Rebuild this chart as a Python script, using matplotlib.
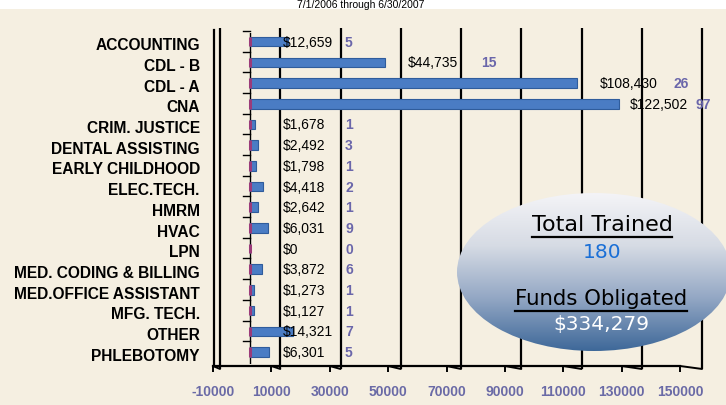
import matplotlib
matplotlib.use("Agg")
import matplotlib.pyplot as plt
import numpy as np
from matplotlib.patches import Ellipse, Rectangle, ConnectionPatch
from matplotlib.colors import LinearSegmentedColormap

categories = ['ACCOUNTING', 'CDL - B', 'CDL - A', 'CNA', 'CRIM. JUSTICE',
              'DENTAL ASSISTING', 'EARLY CHILDHOOD', 'ELEC.TECH.', 'HMRM', 'HVAC',
              'LPN', 'MED. CODING & BILLING', 'MED.OFFICE ASSISTANT', 'MFG. TECH.',
              'OTHER', 'PHLEBOTOMY']
funds = [12659, 44735, 108430, 122502, 1678, 2492, 1798, 4418, 2642, 6031,
         0, 3872, 1273, 1127, 14321, 6301]
trained = [5, 15, 26, 97, 1, 3, 1, 2, 1, 9, 0, 6, 1, 1, 7, 5]
xticks = list(range(-10000, 150001, 20000))
title = '7/1/2006 through 6/30/2007'
total_trained = '180'
funds_obligated = '$334,279'

W, H = 726, 406
bg = '#f5efe1'
fig = plt.figure(figsize=(W / 100, H / 100), dpi=100)
fig.patch.set_facecolor(bg)
fig.add_artist(Rectangle((0, 396 / H), 1, 10 / H, transform=fig.transFigure,
                         facecolor='white', edgecolor='none', zorder=0))
fig.text(0.497, 398.5 / H, title, ha='center', va='baseline', fontsize=7.5,
         family='Liberation Sans', color='black')

# back plane axes: bars, gridlines, labels
ax = fig.add_axes([220 / W, (H - 365) / H, 482 / W, 331 / H])
ax.set_facecolor('none')
y = np.arange(len(categories))
ax.set_xlim(-10000, 150000)
ax.set_ylim(len(categories) - 0.5, -0.5)

ax.vlines(xticks, -0.015, 1.015, transform=ax.get_xaxis_transform(),
          color='black', lw=1.6, clip_on=False, zorder=1)

# zero axis with category ticks
ax.axvline(0, color='black', lw=1.0, zorder=2)
for b in np.arange(-0.5, len(categories) - 0.5, 1.0):
    ax.plot([-2300, 0], [b - 0.1, b - 0.1], color='black', lw=1.0, zorder=2,
            clip_on=False)

ax.barh(y - 0.08, funds, height=0.46, color='#4a7cc4', edgecolor='#2f5c9c',
        lw=0.8, zorder=3)
ax.barh(y - 0.08, trained, height=0.46, color='#9b3b7a', edgecolor='#9b3b7a',
        lw=2.2, zorder=4)

for i, (f, t) in enumerate(zip(funds, trained)):
    fx = min(f + 7500, 126000) if f > 20000 else 11000
    tx = min(f + 32000, 148000) if f > 20000 else 31500
    ax.text(fx, i - 0.08, f'${f:,}', ha='left', va='center', fontsize=10,
            family='Liberation Sans', color='black', zorder=5)
    ax.text(tx, i - 0.08, str(t), ha='left', va='center', fontsize=10,
            family='Liberation Sans', fontweight='bold', color='#6a66aa', zorder=5)

ax.set_xticks([])
ax.set_yticks(y)
ax.set_yticklabels(categories, fontsize=11.2, fontweight='bold',
                   family='Liberation Sans', color='black')
ax.tick_params(axis='y', length=0, pad=14.5)
for s in ax.spines.values():
    s.set_visible(False)

# front plane axis with tick labels
fr = fig.add_axes([213 / W, (H - 367) / H, 467 / W, 0.001])
fr.set_facecolor('none')
fr.set_xlim(-10000, 150000)
fr.set_ylim(0, 1)
fr.set_yticks([])
fr.set_xticks(xticks)
fr.set_xticklabels([str(v) for v in xticks], fontsize=10, fontweight='bold',
                   family='Liberation Sans', color='#6a6aa6')
fr.tick_params(axis='x', length=4, width=1.4, color='black', pad=9)
for s in ['top', 'right', 'left']:
    fr.spines[s].set_visible(False)
fr.spines['bottom'].set_linewidth(1.6)
for xt in xticks:
    fig.add_artist(ConnectionPatch((xt, 0), (xt, -0.015), coordsA=fr.transData,
                                   coordsB=ax.get_xaxis_transform(),
                                   color='black', lw=1.4))

# front-left wall edge
fig.add_artist(plt.Line2D([214 / W, 214 / W], [(H - 31) / H, (H - 367) / H],
                          transform=fig.transFigure, color='black', lw=1.6))

# summary ellipse overlay
ov = fig.add_axes([0, 0, 1, 1], zorder=5)
ov.set_xlim(0, W)
ov.set_ylim(H, 0)
ov.axis('off')
ov.patch.set_alpha(0)
cmap = LinearSegmentedColormap.from_list('ell', ['#f4f4f7', '#d6dbe4', '#93a7c4', '#3e6899'])
grad = np.linspace(0, 1, 256).reshape(-1, 1)
ell = Ellipse((594, 273), 274, 158, transform=ov.transData)
im = ov.imshow(grad, cmap=cmap, extent=(456, 732, 352, 194), aspect='auto', zorder=1)
im.set_clip_path(ell)

t1 = ov.text(602, 225, 'Total Trained', ha='center', va='center', fontsize=16,
             family='DejaVu Sans', color='black', zorder=2)
ov.text(602, 253, total_trained, ha='center', va='center', fontsize=14.5,
        family='DejaVu Sans', color='#1a6fd6', zorder=2)
t2 = ov.text(601, 299, 'Funds Obligated', ha='center', va='center', fontsize=15.3,
             family='DejaVu Sans', color='black', zorder=2)
ov.text(601, 325, funds_obligated, ha='center', va='center', fontsize=14.5,
        family='DejaVu Sans', color='white', zorder=2)

fig.canvas.draw()
inv = ov.transData.inverted()
for t, uy in [(t1, 238), (t2, 312)]:
    bb = t.get_window_extent()
    x0, _ = inv.transform((bb.x0, bb.y0))
    x1, _ = inv.transform((bb.x1, bb.y0))
    ov.plot([x0, x1], [uy, uy], color='black', lw=1.6, zorder=2)

fig.savefig('out.png', dpi=100, facecolor=fig.get_facecolor())
